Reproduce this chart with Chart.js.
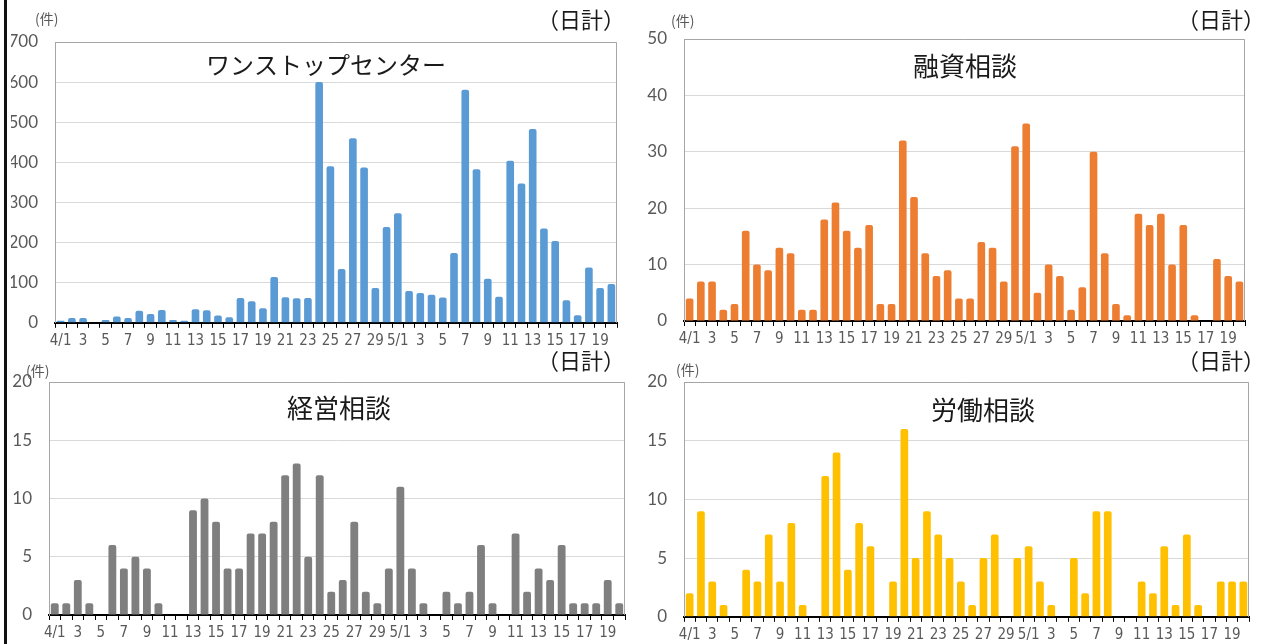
<!DOCTYPE html>
<html>
<head>
<meta charset="utf-8">
<script src="https://cdn.jsdelivr.net/npm/chart.js@4.4.1/dist/chart.umd.min.js"></script>
<style>
body { margin: 0; background: #fff; }
#wrap { position: relative; width: 1262px; height: 644px; overflow: hidden; background: #fff; }
.panel { position: absolute; }
.panel canvas { display: block; }
#edge { position: absolute; left: 4px; top: 0; width: 3px; height: 644px; background: #111; z-index: 5; }
</style>
</head>
<body>
<div id="wrap">
  <div class="panel" style="left:0;top:340px"><canvas id="c3" width="631" height="304"></canvas></div>
  <div class="panel" style="left:631px;top:340px"><canvas id="c4" width="631" height="304"></canvas></div>
  <div class="panel" style="left:0;top:0"><canvas id="c1" width="631" height="350"></canvas></div>
  <div class="panel" style="left:631px;top:0"><canvas id="c2" width="631" height="350"></canvas></div>
  <div id="edge"></div>
</div>
<script>
// 4/1 - 5/20
const categories = ['4/1','4/2','4/3','4/4','4/5','4/6','4/7','4/8','4/9','4/10',
  '4/11','4/12','4/13','4/14','4/15','4/16','4/17','4/18','4/19','4/20',
  '4/21','4/22','4/23','4/24','4/25','4/26','4/27','4/28','4/29','4/30',
  '5/1','5/2','5/3','5/4','5/5','5/6','5/7','5/8','5/9','5/10',
  '5/11','5/12','5/13','5/14','5/15','5/16','5/17','5/18','5/19','5/20'];
const tickLabels = ['4/1','','3','','5','','7','','9','','11','','13','','15','','17','','19','',
  '21','','23','','25','','27','','29','','5/1','','3','','5','','7','','9','',
  '11','','13','','15','','17','','19',''];

const oneStop = [5,12,12,0,7,16,12,30,22,32, 7,5,34,31,18,14,62,54,36,114,
  64,61,62,600,390,134,460,387,87,239, 273,79,74,70,63,174,581,383,110,65,
  404,347,483,235,204,56,19,138,87,97];
const yushi = [4,7,7,2,3,16,10,9,13,12, 2,2,18,21,16,13,17,3,3,32,
  22,12,8,9,4,4,14,13,7,31, 35,5,10,8,2,6,30,12,3,1,
  19,17,19,10,17,1,0,11,8,7];
const keiei = [1,1,3,1,0,6,4,5,4,1, 0,0,9,10,8,4,4,7,7,8,
  12,13,5,12,2,3,8,2,1,4, 11,4,1,0,2,1,2,6,1,0,
  7,2,4,3,6,1,1,1,3,1];
const roudou = [2,9,3,1,0,4,3,7,3,8, 1,0,12,14,4,8,6,0,3,16,
  5,9,7,5,3,1,5,7,0,5, 6,3,1,0,5,2,9,9,0,0,
  3,2,6,1,7,1,0,3,3,3];

const tickFont = 'Lato';
const xFont = "'Liberation Sans Narrow', 'DejaVu Sans Condensed', sans-serif";
const jpFont = '"Noto Sans CJK JP"';

// titles, units and the top/right frame
const panelText = {
  id: 'panelText',
  afterDraw(chart, args, o) {
    const { ctx, chartArea: a } = chart;
    ctx.save();
    ctx.strokeStyle = '#a6a6a6';
    ctx.lineWidth = 1;
    ctx.beginPath();
    ctx.moveTo(a.left, a.top + 0.5);
    ctx.lineTo(a.right - 0.5, a.top + 0.5);
    ctx.lineTo(a.right - 0.5, a.bottom);
    ctx.stroke();

    ctx.textBaseline = 'middle';
    ctx.fillStyle = '#1a1a1a';
    ctx.textAlign = 'center';
    ctx.font = o.titleSize + 'px ' + jpFont;
    ctx.fillText(o.title, o.titleX, o.titleY);

    ctx.textAlign = 'right';
    ctx.font = '22px ' + jpFont;
    ctx.fillText('（日計）', o.sumX, o.sumY);

    ctx.textAlign = 'left';
    ctx.fillStyle = '#595959';
    ctx.font = '14px ' + jpFont;
    ctx.fillText('(件)', o.unitX, o.unitY);
    ctx.restore();
  }
};

function makeChart(id, values, color, yMax, step, pad, text) {
  return new Chart(document.getElementById(id), {
    type: 'bar',
    data: {
      labels: categories,
      datasets: [{
        data: values,
        backgroundColor: color,
        barPercentage: 0.68,
        categoryPercentage: 1.0,
        borderRadius: 2,
        borderSkipped: 'start'
      }]
    },
    options: {
      responsive: false,
      animation: false,
      layout: { padding: pad },
      plugins: {
        legend: { display: false },
        tooltip: { enabled: false },
        panelText: text
      },
      scales: {
        x: {
          grid: { offset: true, drawOnChartArea: false, drawTicks: true, tickLength: 5, color: '#000' },
          border: { display: true, color: '#000', width: 2 },
          ticks: {
            autoSkip: false, maxRotation: 0, minRotation: 0, padding: 4,
            color: '#595959', font: { family: xFont, size: 15 },
            callback: (v, i) => tickLabels[i]
          },
          // labels are clipped to the axis box, keep it tall enough
          afterFit: s => { s.height = 27; }
        },
        y: {
          min: 0, max: yMax,
          ticks: { stepSize: step, padding: 17, color: '#595959', font: { family: tickFont, size: 17 } },
          grid: { color: '#d9d9d9', drawTicks: false },
          border: { display: true, color: '#a6a6a6' },
          afterFit: s => { s.width = 44; }
        }
      }
    },
    plugins: [panelText]
  });
}

makeChart('c1', oneStop, '#5b9bd5', 700, 100,
  { left: 11, right: 14, top: 42, bottom: 0 },
  { title: 'ワンストップセンター', titleSize: 24, titleX: 326, titleY: 65, sumX: 625, sumY: 20, unitX: 35, unitY: 19 });
makeChart('c2', yushi, '#ed7d31', 50, 10,
  { left: 9, right: 17, top: 39, bottom: 2 },
  { title: '融資相談', titleSize: 26, titleX: 334, titleY: 66, sumX: 634, sumY: 20, unitX: 40, unitY: 21 });
makeChart('c3', keiei, '#7f7f7f', 20, 5,
  { left: 5, right: 6, top: 42, bottom: 2 },
  { title: '経営相談', titleSize: 26, titleX: 339, titleY: 68, sumX: 625, sumY: 21, unitX: 26, unitY: 31 });
makeChart('c4', roudou, '#ffc000', 20, 5,
  { left: 9, right: 13, top: 42, bottom: 0 },
  { title: '労働相談', titleSize: 26, titleX: 352, titleY: 70, sumX: 634, sumY: 21, unitX: 45, unitY: 30 });
</script>
</body>
</html>
